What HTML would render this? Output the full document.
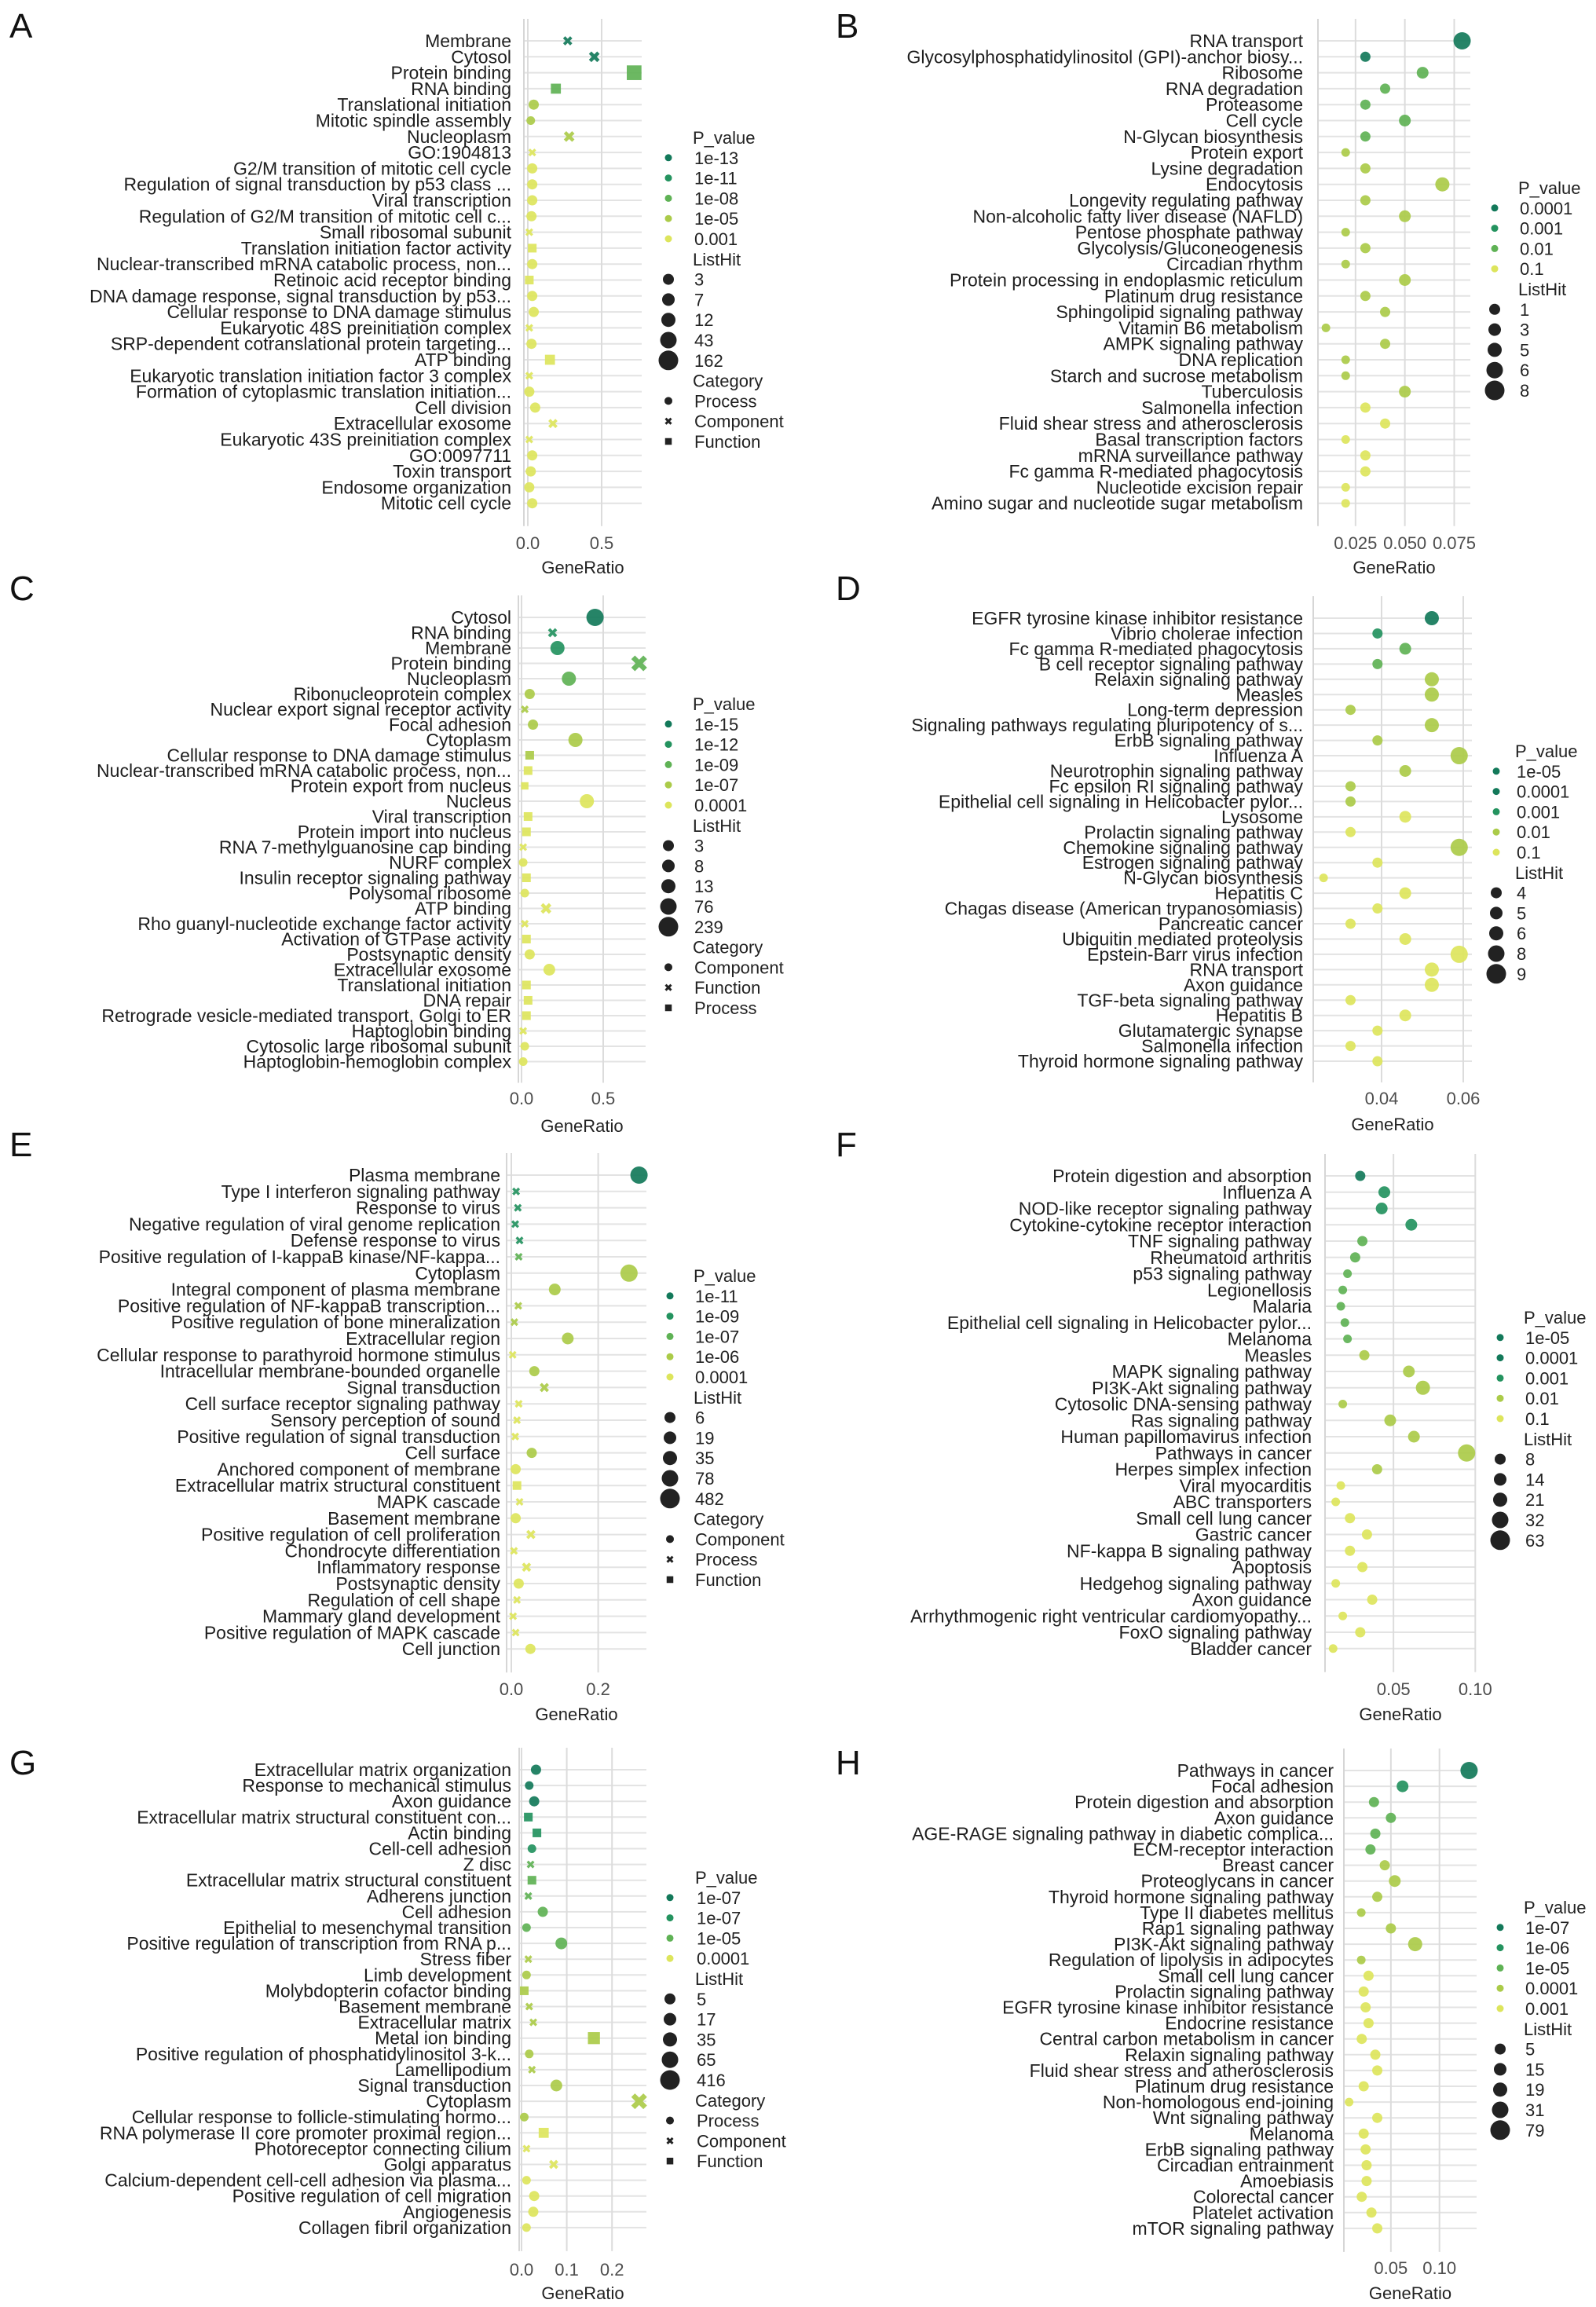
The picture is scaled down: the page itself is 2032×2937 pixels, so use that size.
<!DOCTYPE html>
<html><head><meta charset="utf-8">
<style>
html,body{margin:0;padding:0;background:#fff;}
svg{display:block;font-family:"Liberation Sans",sans-serif;}
.lab{font-size:23px;fill:#1e1e1e;}
.tick{font-size:22px;fill:#4d4d4d;}
.ttl{font-size:22px;fill:#222;}
.plet{font-size:44px;fill:#111;}
</style></head>
<body>
<svg id="fig" width="2032" height="2937" viewBox="0 0 2032 2937" xmlns="http://www.w3.org/2000/svg"></svg>
<script>
// ---------- colour / size scales ----------
const COLORS = ["#13795a","#24935f","#5fb255","#abcb49","#dde55c"];
const RADII = [5.5, 6.5, 7.5, 9, 11];

// ---------- Panel A ----------
const labelsA = ["Membrane","Cytosol","Protein binding","RNA binding","Translational initiation","Mitotic spindle assembly","Nucleoplasm","GO:1904813","G2/M transition of mitotic cell cycle","Regulation of signal transduction by p53 class ...","Viral transcription","Regulation of G2/M transition of mitotic cell c...","Small ribosomal subunit","Translation initiation factor activity","Nuclear-transcribed mRNA catabolic process, non...","Retinoic acid receptor binding","DNA damage response, signal transduction by p53...","Cellular response to DNA damage stimulus","Eukaryotic 48S preinitiation complex","SRP-dependent cotranslational protein targeting...","ATP binding","Eukaryotic translation initiation factor 3 complex","Formation of cytoplasmic translation initiation...","Cell division","Extracellular exosome","Eukaryotic 43S preinitiation complex","GO:0097711","Toxin transport","Endosome organization","Mitotic cell cycle"];
const ratioA = [0.27,0.45,0.72,0.19,0.04,0.02,0.28,0.03,0.03,0.03,0.03,0.025,0.01,0.03,0.03,0.01,0.03,0.04,0.01,0.025,0.15,0.01,0.01,0.05,0.17,0.01,0.03,0.02,0.01,0.03];
const pLevelA = [0,0,2,2,3,3,3,4,4,4,4,4,4,4,4,4,4,4,4,4,4,4,4,4,4,4,4,4,4,4];
const hitLevelA = [1,2,4,2,1,0,2,0,1,1,1,1,0,1,1,1,1,1,0,1,2,0,1,1,1,0,1,1,1,1];
const catA = ["x","x","s","s","o","o","x","x","o","o","o","o","x","s","o","s","o","o","x","o","s","x","o","o","x","x","o","o","o","o"];
const pLegA = ["1e-13","1e-11","1e-08","1e-05","0.001"];
const hitLegA = ["3","7","12","43","162"];
const catLegA = ["Process","Component","Function"];
const ticksA = [0.0,0.5];
const tickLabA = ["0.0","0.5"];

// ---------- Panel B ----------
const labelsB = ["RNA transport","Glycosylphosphatidylinositol (GPI)-anchor biosy...","Ribosome","RNA degradation","Proteasome","Cell cycle","N-Glycan biosynthesis","Protein export","Lysine degradation","Endocytosis","Longevity regulating pathway","Non-alcoholic fatty liver disease (NAFLD)","Pentose phosphate pathway","Glycolysis/Gluconeogenesis","Circadian rhythm","Protein processing in endoplasmic reticulum","Platinum drug resistance","Sphingolipid signaling pathway","Vitamin B6 metabolism","AMPK signaling pathway","DNA replication","Starch and sucrose metabolism","Tuberculosis","Salmonella infection","Fluid shear stress and atherosclerosis","Basal transcription factors","mRNA surveillance pathway","Fc gamma R-mediated phagocytosis","Nucleotide excision repair","Amino sugar and nucleotide sugar metabolism"];
const ratioB = [0.079,0.030,0.059,0.040,0.030,0.050,0.030,0.020,0.030,0.069,0.030,0.050,0.020,0.030,0.020,0.050,0.030,0.040,0.010,0.040,0.020,0.020,0.050,0.030,0.040,0.020,0.030,0.030,0.020,0.020];
const pLevelB = [0,0,2,2,2,2,2,3,3,3,3,3,3,3,3,3,3,3,3,3,3,3,3,4,4,4,4,4,4,4];
const hitLevelB = [4,1,2,1,1,2,1,0,1,3,1,2,0,1,0,2,1,1,0,1,0,0,2,1,1,0,1,1,0,0];
const catB = labelsB.map(function(){return "o";});
const pLegB = ["0.0001","0.001","0.01","0.1"];
const pLegColB = [0,1,2,4];
const hitLegB = ["1","3","5","6","8"];
const ticksB = [0.025,0.05,0.075];
const tickLabB = ["0.025","0.050","0.075"];

// ---------- Panel C ----------
const labelsC = ["Cytosol","RNA binding","Membrane","Protein binding","Nucleoplasm","Ribonucleoprotein complex","Nuclear export signal receptor activity","Focal adhesion","Cytoplasm","Cellular response to DNA damage stimulus","Nuclear-transcribed mRNA catabolic process, non...","Protein export from nucleus","Nucleus","Viral transcription","Protein import into nucleus","RNA 7-methylguanosine cap binding","NURF complex","Insulin receptor signaling pathway","Polysomal ribosome","ATP binding","Rho guanyl-nucleotide exchange factor activity","Activation of GTPase activity","Postsynaptic density","Extracellular exosome","Translational initiation","DNA repair","Retrograde vesicle-mediated transport, Golgi to ER","Haptoglobin binding","Cytosolic large ribosomal subunit","Haptoglobin-hemoglobin complex"];
const ratioC = [0.45,0.19,0.22,0.72,0.29,0.05,0.02,0.07,0.33,0.05,0.04,0.02,0.40,0.04,0.03,0.01,0.01,0.03,0.02,0.15,0.02,0.03,0.05,0.17,0.03,0.04,0.03,0.01,0.02,0.01];
const pLevelC = [0,1,1,2,2,3,3,3,3,3,4,4,4,4,4,4,4,4,4,4,4,4,4,4,4,4,4,4,4,4];
const hitLevelC = [4,1,3,4,3,1,0,1,3,1,1,0,3,1,1,0,0,1,0,2,0,1,1,2,1,1,1,0,0,0];
const catC = ["o","x","o","x","o","o","x","o","o","s","s","s","o","s","s","x","o","s","o","x","x","s","o","o","s","s","s","x","o","o"];
const pLegC = ["1e-15","1e-12","1e-09","1e-07","0.0001"];
const hitLegC = ["3","8","13","76","239"];
const catLegC = ["Component","Function","Process"];
const ticksC = [0.0,0.5];
const tickLabC = ["0.0","0.5"];

// ---------- Panel D ----------
const labelsD = ["EGFR tyrosine kinase inhibitor resistance","Vibrio cholerae infection","Fc gamma R-mediated phagocytosis","B cell receptor signaling pathway","Relaxin signaling pathway","Measles","Long-term depression","Signaling pathways regulating pluripotency of s...","ErbB signaling pathway","Influenza A","Neurotrophin signaling pathway","Fc epsilon RI signaling pathway","Epithelial cell signaling in Helicobacter pylor...","Lysosome","Prolactin signaling pathway","Chemokine signaling pathway","Estrogen signaling pathway","N-Glycan biosynthesis","Hepatitis C","Chagas disease (American trypanosomiasis)","Pancreatic cancer","Ubiquitin mediated proteolysis","Epstein-Barr virus infection","RNA transport","Axon guidance","TGF-beta signaling pathway","Hepatitis B","Glutamatergic synapse","Salmonella infection","Thyroid hormone signaling pathway"];
const ratioD = [0.0523,0.039,0.0458,0.039,0.0523,0.0523,0.0324,0.0523,0.039,0.059,0.0458,0.0324,0.0324,0.0458,0.0324,0.059,0.039,0.0258,0.0458,0.039,0.0324,0.0458,0.059,0.0523,0.0523,0.0324,0.0458,0.039,0.0324,0.039];
const pLevelD = [0,1,2,2,3,3,3,3,3,3,3,3,3,4,4,3,4,4,4,4,4,4,4,4,4,4,4,4,4,4];
const hitLevelD = [3,1,2,1,3,3,1,3,1,4,2,1,1,2,1,4,1,0,2,1,1,2,4,3,3,1,2,1,1,1];
const catD = labelsD.map(function(){return "o";});
const pLegD = ["1e-05","0.0001","0.001","0.01","0.1"];
const pLegColD = [0,0,1,3,4];
const hitLegD = ["4","5","6","8","9"];
const ticksD = [0.04,0.06];
const tickLabD = ["0.04","0.06"];

// ---------- Panel E ----------
const labelsE = ["Plasma membrane","Type I interferon signaling pathway","Response to virus","Negative regulation of viral genome replication","Defense response to virus","Positive regulation of I-kappaB kinase/NF-kappa...","Cytoplasm","Integral component of plasma membrane","Positive regulation of NF-kappaB transcription...","Positive regulation of bone mineralization","Extracellular region","Cellular response to parathyroid hormone stimulus","Intracellular membrane-bounded organelle","Signal transduction","Cell surface receptor signaling pathway","Sensory perception of sound","Positive regulation of signal transduction","Cell surface","Anchored component of membrane","Extracellular matrix structural constituent","MAPK cascade","Basement membrane","Positive regulation of cell proliferation","Chondrocyte differentiation","Inflammatory response","Postsynaptic density","Regulation of cell shape","Mammary gland development","Positive regulation of MAPK cascade","Cell junction"];
const ratioE = [0.294,0.011,0.015,0.009,0.019,0.017,0.271,0.10,0.016,0.007,0.13,0.003,0.053,0.076,0.017,0.013,0.009,0.047,0.01,0.013,0.019,0.01,0.045,0.006,0.035,0.017,0.013,0.004,0.01,0.044];
const pLevelE = [0,1,1,1,1,2,3,3,3,3,3,4,3,3,4,4,4,3,4,4,4,4,4,4,4,4,4,4,4,4];
const hitLevelE = [4,0,0,0,0,0,4,2,0,0,2,0,1,1,0,0,0,1,1,1,0,1,1,0,1,1,0,0,0,1];
const catE = ["o","x","x","x","x","x","o","o","x","x","o","x","o","x","x","x","x","o","o","s","x","o","x","x","x","o","x","x","x","o"];
const pLegE = ["1e-11","1e-09","1e-07","1e-06","0.0001"];
const hitLegE = ["6","19","35","78","482"];
const catLegE = ["Component","Process","Function"];
const ticksE = [0.0,0.2];
const tickLabE = ["0.0","0.2"];

// ---------- Panel F ----------
const labelsF = ["Protein digestion and absorption","Influenza A","NOD-like receptor signaling pathway","Cytokine-cytokine receptor interaction","TNF signaling pathway","Rheumatoid arthritis","p53 signaling pathway","Legionellosis","Malaria","Epithelial cell signaling in Helicobacter pylor...","Melanoma","Measles","MAPK signaling pathway","PI3K-Akt signaling pathway","Cytosolic DNA-sensing pathway","Ras signaling pathway","Human papillomavirus infection","Pathways in cancer","Herpes simplex infection","Viral myocarditis","ABC transporters","Small cell lung cancer","Gastric cancer","NF-kappa B signaling pathway","Apoptosis","Hedgehog signaling pathway","Axon guidance","Arrhythmogenic right ventricular cardiomyopathy...","FoxO signaling pathway","Bladder cancer"];
const ratioF = [0.0297,0.0444,0.0428,0.0609,0.031,0.0266,0.0219,0.019,0.0178,0.0203,0.0219,0.0322,0.0594,0.068,0.019,0.048,0.0625,0.0947,0.040,0.0178,0.0147,0.0234,0.0338,0.0234,0.031,0.0147,0.037,0.019,0.0297,0.0131];
const pLevelF = [0,1,1,1,2,2,2,2,2,2,2,3,3,3,3,3,3,3,3,4,4,4,4,4,4,4,4,4,4,4];
const hitLevelF = [1,2,2,2,1,1,0,0,0,0,0,1,2,3,0,2,2,4,1,0,0,1,1,1,1,0,1,0,1,0];
const catF = labelsF.map(function(){return "o";});
const pLegF = ["1e-05","0.0001","0.001","0.01","0.1"];
const pLegColF = [0,0,1,3,4];
const hitLegF = ["8","14","21","32","63"];
const ticksF = [0.05,0.10];
const tickLabF = ["0.05","0.10"];

// ---------- Panel G ----------
const labelsG = ["Extracellular matrix organization","Response to mechanical stimulus","Axon guidance","Extracellular matrix structural constituent con...","Actin binding","Cell-cell adhesion","Z disc","Extracellular matrix structural constituent","Adherens junction","Cell adhesion","Epithelial to mesenchymal transition","Positive regulation of transcription from RNA p...","Stress fiber","Limb development","Molybdopterin cofactor binding","Basement membrane","Extracellular matrix","Metal ion binding","Positive regulation of phosphatidylinositol  3-k...","Lamellipodium","Signal transduction","Cytoplasm","Cellular response to follicle-stimulating hormo...","RNA polymerase II core promoter proximal region...","Photoreceptor connecting cilium","Golgi apparatus","Calcium-dependent cell-cell adhesion via plasma...","Positive regulation of cell migration","Angiogenesis","Collagen fibril organization"];
const ratioG = [0.032,0.017,0.028,0.015,0.034,0.023,0.02,0.023,0.015,0.047,0.011,0.088,0.015,0.011,0.006,0.017,0.026,0.16,0.017,0.023,0.077,0.26,0.006,0.049,0.011,0.071,0.011,0.028,0.026,0.011];
const pLevelG = [0,0,0,1,1,1,2,2,2,2,2,2,3,3,3,3,3,3,3,3,3,3,3,4,4,4,4,4,4,4];
const hitLevelG = [1,0,1,1,1,0,0,1,0,1,0,2,0,0,1,0,0,3,0,0,2,4,0,2,0,1,0,1,1,0];
const catG = ["o","o","o","s","s","o","x","s","x","o","o","o","x","o","s","x","x","s","o","x","o","x","o","s","x","x","o","o","o","o"];
const pLegG = ["1e-07","1e-07","1e-05","0.0001"];
const pLegColG = [0,1,2,4];
const hitLegG = ["5","17","35","65","416"];
const catLegG = ["Process","Component","Function"];
const ticksG = [0.0,0.1,0.2];
const tickLabG = ["0.0","0.1","0.2"];

// ---------- Panel H ----------
const labelsH = ["Pathways in cancer","Focal adhesion","Protein digestion and absorption","Axon guidance","AGE-RAGE signaling pathway in diabetic complica...","ECM-receptor interaction","Breast cancer","Proteoglycans in cancer","Thyroid hormone signaling pathway","Type II diabetes mellitus","Rap1 signaling pathway","PI3K-Akt signaling pathway","Regulation of lipolysis in adipocytes","Small cell lung cancer","Prolactin signaling pathway","EGFR tyrosine kinase inhibitor resistance","Endocrine resistance","Central carbon metabolism in cancer","Relaxin signaling pathway","Fluid shear stress and atherosclerosis","Platinum drug resistance","Non-homologous end-joining","Wnt signaling pathway","Melanoma","ErbB signaling pathway","Circadian entrainment","Amoebiasis","Colorectal cancer","Platelet activation","mTOR signaling pathway"];
const ratioH = [0.1305,0.062,0.0326,0.05,0.034,0.029,0.0437,0.054,0.036,0.0195,0.05,0.075,0.0195,0.027,0.022,0.024,0.027,0.02,0.034,0.036,0.022,0.007,0.036,0.022,0.024,0.025,0.025,0.02,0.03,0.036];
const pLevelH = [0,1,2,2,2,2,3,3,3,3,3,3,3,4,4,4,4,4,4,4,4,4,4,4,4,4,4,4,4,4];
const hitLevelH = [4,2,1,1,1,1,1,2,1,0,1,3,0,1,1,1,1,1,1,1,1,0,1,1,1,1,1,1,1,1];
const catH = labelsH.map(function(){return "o";});
const pLegH = ["1e-07","1e-06","1e-05","0.0001","0.001"];
const hitLegH = ["5","15","19","31","79"];
const ticksH = [0.05,0.10];
const tickLabH = ["0.05","0.10"];

// ---------- drawing ----------
const NS = "http://www.w3.org/2000/svg";
const fig = document.getElementById("fig");
function mk(tag, attrs, parent){
  const e = document.createElementNS(NS, tag);
  for (const k in attrs) e.setAttribute(k, attrs[k]);
  (parent || fig).appendChild(e);
  return e;
}
function drawShape(g, shape, cx, cy, r, color, op){
  let el;
  if (shape === "o"){
    el = mk("circle",{cx:cx,cy:cy,r:r,fill:color,"fill-opacity":op},g);
  } else if (shape === "s"){
    const h = r*0.85;
    el = mk("rect",{x:cx-h,y:cy-h,width:2*h,height:2*h,fill:color,"fill-opacity":op},g);
  } else {
    const h = r*0.7;
    el = mk("path",{d:"M"+(cx-h)+" "+(cy-h)+"L"+(cx+h)+" "+(cy+h)+"M"+(cx-h)+" "+(cy+h)+"L"+(cx+h)+" "+(cy-h),stroke:color,"stroke-width":r*0.6,"stroke-opacity":op,fill:"none"},g);
  }
  return el;
}

function panel(P){
  const g = mk("g",{});
  
  
  const xs = function(v){ return P.x0 + v*P.ppu; };
  const ys = function(i){ return P.rowTop + i*P.step; };
  const n = P.labels.length;
  const plotBottom = ys(n-1) + P.bot;
  const plotTop = ys(0) - 28;

  const letter = mk("text",{x:P.letterX,y:P.letterY,"class":"plet"},g);
  letter.textContent = P.id;
  
  

  for (let i=0;i<n;i++){
    const gl = mk("line",{x1:P.axL,x2:P.axR,y1:ys(i),y2:ys(i),stroke:"#e3e3e3","stroke-width":2},g);
    
    
  }
  const ax = mk("line",{x1:P.axL,x2:P.axL,y1:plotTop,y2:plotBottom,stroke:"#d6d6d6","stroke-width":2},g);
  
  
  for (let t=0;t<P.ticks.length;t++){
    const tx = xs(P.ticks[t]);
    const vl = mk("line",{x1:tx,x2:tx,y1:plotTop,y2:plotBottom,stroke:"#dcdcdc","stroke-width":2},g);
    
    
    const tl = mk("text",{x:tx,y:P.tickY,"text-anchor":"middle","class":"tick"},g);
    tl.textContent = P.tickLabels[t];
    
    
  }
  const xt = mk("text",{x:(P.axL+P.axR)/2,y:P.xlabY,"text-anchor":"middle","class":"ttl"},g);
  xt.textContent = "GeneRatio";
  
  

  for (let i=0;i<n;i++){
    const lb = mk("text",{x:P.labR,y:ys(i)+8,"text-anchor":"end","class":"lab"},g);
    lb.textContent = P.labels[i];
    
    
  }
  for (let i=0;i<n;i++){
    const pt = drawShape(g, P.cat[i], xs(P.ratio[i]), ys(i), RADII[P.hit[i]], COLORS[P.plev[i]], 0.92);
    
    
  }

  let y = P.legY;
  const lg = mk("g",{},g);
  
  
  function title(s){
    const t = mk("text",{x:P.legText-2,y:y+8,"class":"ttl"},lg);
    t.textContent = s;
    
    
    y += P.legStep;
  }
  function entry(shape, r, color, s){
    const m = drawShape(lg, shape, P.legDot, y, r, color, 1);
    
    
    const t = mk("text",{x:P.legText,y:y+8,"class":"ttl"},lg);
    t.textContent = s;
    
    
    y += P.legStep;
  }
  title("P_value");
  for (let k=0;k<P.pLeg.length;k++){
    const ci = P.pLegCol ? P.pLegCol[k] : k;
    entry("o", 4.5, COLORS[ci], P.pLeg[k]);
  }
  title("ListHit");
  for (let k=0;k<P.hitLeg.length;k++){
    entry("o", RADII[k]+1.5, "#222", P.hitLeg[k]);
  }
  if (P.catLeg){
    title("Category");
    const shp = P.catShapes;
    for (let k=0;k<P.catLeg.length;k++){
      entry(shp[k], 5, "#222", P.catLeg[k]);
    }
  }
}

panel({id:"A",labels:labelsA,ratio:ratioA,plev:pLevelA,hit:hitLevelA,cat:catA,ticks:ticksA,tickLabels:tickLabA,
  x0:672,ppu:188,axL:667,axR:817,rowTop:52,step:20.3,bot:29,labR:651,tickY:699,xlabY:730,letterX:12,letterY:48,
  legY:175,legStep:25.8,legDot:851,legText:884,pLeg:pLegA,hitLeg:hitLegA,catLeg:catLegA,catShapes:["o","x","s"]});
panel({id:"B",labels:labelsB,ratio:ratioB,plev:pLevelB,hit:hitLevelB,cat:catB,ticks:ticksB,tickLabels:tickLabB,
  x0:1663,ppu:2513,axL:1678,axR:1872,rowTop:52,step:20.3,bot:29,labR:1659,tickY:699,xlabY:730,letterX:1064,letterY:48,
  legY:239,legStep:25.8,legDot:1903,legText:1935,pLeg:pLegB,pLegCol:pLegColB,hitLeg:hitLegB});
panel({id:"C",labels:labelsC,ratio:ratioC,plev:pLevelC,hit:hitLevelC,cat:catC,ticks:ticksC,tickLabels:tickLabC,
  x0:664,ppu:208,axL:660,axR:822,rowTop:786,step:19.5,bot:27,labR:651,tickY:1406,xlabY:1441,letterX:12,letterY:764,
  legY:896,legStep:25.8,legDot:851,legText:884,pLeg:pLegC,hitLeg:hitLegC,catLeg:catLegC,catShapes:["o","x","s"]});
panel({id:"D",labels:labelsD,ratio:ratioD,plev:pLevelD,hit:hitLevelD,cat:catD,ticks:ticksD,tickLabels:tickLabD,
  x0:1551,ppu:5200,axL:1672,axR:1874,rowTop:787,step:19.45,bot:27,labR:1659,tickY:1406,xlabY:1439,letterX:1064,letterY:764,
  legY:956,legStep:25.8,legDot:1905,legText:1931,pLeg:pLegD,pLegCol:pLegColD,hitLeg:hitLegD});
panel({id:"E",labels:labelsE,ratio:ratioE,plev:pLevelE,hit:hitLevelE,cat:catE,ticks:ticksE,tickLabels:tickLabE,
  x0:651,ppu:553,axL:645,axR:823,rowTop:1496,step:20.8,bot:30,labR:637,tickY:2158,xlabY:2190,letterX:12,letterY:1472,
  legY:1624,legStep:25.8,legDot:853,legText:885,pLeg:pLegE,hitLeg:hitLegE,catLeg:catLegE,catShapes:["o","x","s"]});
panel({id:"F",labels:labelsF,ratio:ratioF,plev:pLevelF,hit:hitLevelF,cat:catF,ticks:ticksF,tickLabels:tickLabF,
  x0:1670,ppu:2083,axL:1687,axR:1879,rowTop:1497,step:20.75,bot:30,labR:1670,tickY:2158,xlabY:2190,letterX:1064,letterY:1472,
  legY:1677,legStep:25.8,legDot:1910,legText:1942,pLeg:pLegF,pLegCol:pLegColF,hitLeg:hitLegF});
panel({id:"G",labels:labelsG,ratio:ratioG,plev:pLevelG,hit:hitLevelG,cat:catG,ticks:ticksG,tickLabels:tickLabG,
  x0:664,ppu:576,axL:661,axR:823,rowTop:2253,step:20.1,bot:30,labR:651,tickY:2897,xlabY:2927,letterX:12,letterY:2259,
  legY:2390,legStep:25.8,legDot:853,legText:887,pLeg:pLegG,pLegCol:pLegColG,hitLeg:hitLegG,catLeg:catLegG,catShapes:["o","x","s"]});
panel({id:"H",labels:labelsH,ratio:ratioH,plev:pLevelH,hit:hitLevelH,cat:catH,ticks:ticksH,tickLabels:tickLabH,
  x0:1709,ppu:1237,axL:1711,axR:1880,rowTop:2254,step:20.1,bot:30,labR:1698,tickY:2895,xlabY:2927,letterX:1064,letterY:2259,
  legY:2428,legStep:25.8,legDot:1910,legText:1942,pLeg:pLegH,hitLeg:hitLegH});
</script>
</body></html>
